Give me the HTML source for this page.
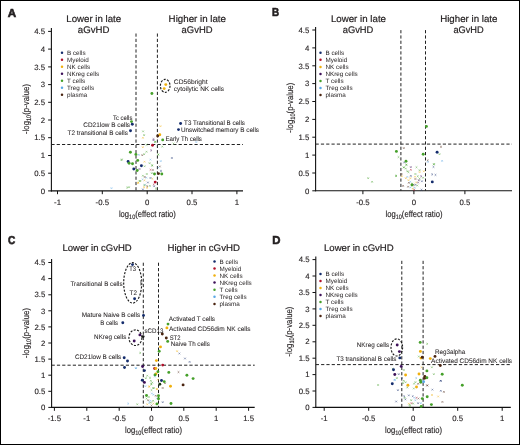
<!DOCTYPE html>
<html><head><meta charset="utf-8"><style>
html,body{margin:0;padding:0;background:#fff;}
body{width:520px;height:445px;overflow:hidden;position:relative;font-family:"Liberation Sans", sans-serif;}
svg{display:block;position:absolute;left:0;top:0;will-change:transform;}
.frame{position:absolute;left:0;top:0;width:518px;height:443px;border:1px solid #000;pointer-events:none;}
</style></head><body>
<svg width="520" height="445" viewBox="0 0 520 445" font-family='"Liberation Sans", sans-serif' text-rendering="geometricPrecision">
<rect x="0" y="0" width="520" height="445" fill="#fff"/>
<line x1="51.4" y1="28.0" x2="51.4" y2="191.4" stroke="#111" stroke-width="1.1"/>
<line x1="50.9" y1="190.9" x2="243.0" y2="190.9" stroke="#111" stroke-width="1.1"/>
<line x1="48.1" y1="190.9" x2="51.4" y2="190.9" stroke="#111" stroke-width="1"/>
<text x="45.1" y="193.6" font-size="7.8" text-anchor="end" stroke="#231f20" stroke-width="0.12" fill="#231f20">0</text>
<line x1="48.1" y1="173.2" x2="51.4" y2="173.2" stroke="#111" stroke-width="1"/>
<text x="45.1" y="175.9" font-size="7.8" text-anchor="end" stroke="#231f20" stroke-width="0.12" fill="#231f20">0.5</text>
<line x1="48.1" y1="155.5" x2="51.4" y2="155.5" stroke="#111" stroke-width="1"/>
<text x="45.1" y="158.2" font-size="7.8" text-anchor="end" stroke="#231f20" stroke-width="0.12" fill="#231f20">1</text>
<line x1="48.1" y1="137.7" x2="51.4" y2="137.7" stroke="#111" stroke-width="1"/>
<text x="45.1" y="140.4" font-size="7.8" text-anchor="end" stroke="#231f20" stroke-width="0.12" fill="#231f20">1.5</text>
<line x1="48.1" y1="120.0" x2="51.4" y2="120.0" stroke="#111" stroke-width="1"/>
<text x="45.1" y="122.7" font-size="7.8" text-anchor="end" stroke="#231f20" stroke-width="0.12" fill="#231f20">2</text>
<line x1="48.1" y1="102.3" x2="51.4" y2="102.3" stroke="#111" stroke-width="1"/>
<text x="45.1" y="105.0" font-size="7.8" text-anchor="end" stroke="#231f20" stroke-width="0.12" fill="#231f20">2.5</text>
<line x1="48.1" y1="84.6" x2="51.4" y2="84.6" stroke="#111" stroke-width="1"/>
<text x="45.1" y="87.3" font-size="7.8" text-anchor="end" stroke="#231f20" stroke-width="0.12" fill="#231f20">3</text>
<line x1="48.1" y1="66.9" x2="51.4" y2="66.9" stroke="#111" stroke-width="1"/>
<text x="45.1" y="69.6" font-size="7.8" text-anchor="end" stroke="#231f20" stroke-width="0.12" fill="#231f20">3.5</text>
<line x1="48.1" y1="49.1" x2="51.4" y2="49.1" stroke="#111" stroke-width="1"/>
<text x="45.1" y="51.8" font-size="7.8" text-anchor="end" stroke="#231f20" stroke-width="0.12" fill="#231f20">4</text>
<line x1="48.1" y1="31.4" x2="51.4" y2="31.4" stroke="#111" stroke-width="1"/>
<text x="45.1" y="34.1" font-size="7.8" text-anchor="end" stroke="#231f20" stroke-width="0.12" fill="#231f20">4.5</text>
<line x1="57.5" y1="190.9" x2="57.5" y2="194.2" stroke="#111" stroke-width="1"/>
<text x="57.5" y="204.6" font-size="7.8" text-anchor="middle" stroke="#231f20" stroke-width="0.12" fill="#231f20">-1</text>
<line x1="102.3" y1="190.9" x2="102.3" y2="194.2" stroke="#111" stroke-width="1"/>
<text x="102.3" y="204.6" font-size="7.8" text-anchor="middle" stroke="#231f20" stroke-width="0.12" fill="#231f20">-0.5</text>
<line x1="147.2" y1="190.9" x2="147.2" y2="194.2" stroke="#111" stroke-width="1"/>
<text x="147.2" y="204.6" font-size="7.8" text-anchor="middle" stroke="#231f20" stroke-width="0.12" fill="#231f20">0</text>
<line x1="192.0" y1="190.9" x2="192.0" y2="194.2" stroke="#111" stroke-width="1"/>
<text x="192.0" y="204.6" font-size="7.8" text-anchor="middle" stroke="#231f20" stroke-width="0.12" fill="#231f20">0.5</text>
<line x1="236.9" y1="190.9" x2="236.9" y2="194.2" stroke="#111" stroke-width="1"/>
<text x="236.9" y="204.6" font-size="7.8" text-anchor="middle" stroke="#231f20" stroke-width="0.12" fill="#231f20">1</text>
<line x1="136.0" y1="33.5" x2="136.0" y2="190.9" stroke="#222" stroke-width="1" stroke-dasharray="3.2 2.1"/>
<line x1="157.4" y1="33.5" x2="157.4" y2="190.9" stroke="#222" stroke-width="1" stroke-dasharray="3.2 2.1"/>
<line x1="51.4" y1="144.5" x2="243.0" y2="144.5" stroke="#222" stroke-width="1" stroke-dasharray="3.2 2.1"/>
<text x="118.9" y="216.6" font-size="9" fill="#231f20" stroke="#231f20" stroke-width="0.15" textLength="57" lengthAdjust="spacingAndGlyphs">log<tspan font-size="6.5" dy="2.2">10</tspan><tspan dy="-2.2">(effect ratio)</tspan></text>
<text transform="translate(28.8,134.0) rotate(-90)" font-size="9" fill="#231f20" stroke="#231f20" stroke-width="0.15" textLength="50" lengthAdjust="spacingAndGlyphs">-log<tspan font-size="6.5" dy="2.2">10</tspan><tspan dy="-2.2">(p-value)</tspan></text>
<line x1="315.6" y1="27.0" x2="315.6" y2="191.3" stroke="#111" stroke-width="1.1"/>
<line x1="315.1" y1="190.8" x2="512.0" y2="190.8" stroke="#111" stroke-width="1.1"/>
<line x1="312.3" y1="190.8" x2="315.6" y2="190.8" stroke="#111" stroke-width="1"/>
<text x="309.3" y="193.5" font-size="7.8" text-anchor="end" stroke="#231f20" stroke-width="0.12" fill="#231f20">0</text>
<line x1="312.3" y1="173.0" x2="315.6" y2="173.0" stroke="#111" stroke-width="1"/>
<text x="309.3" y="175.7" font-size="7.8" text-anchor="end" stroke="#231f20" stroke-width="0.12" fill="#231f20">0.5</text>
<line x1="312.3" y1="155.1" x2="315.6" y2="155.1" stroke="#111" stroke-width="1"/>
<text x="309.3" y="157.8" font-size="7.8" text-anchor="end" stroke="#231f20" stroke-width="0.12" fill="#231f20">1</text>
<line x1="312.3" y1="137.2" x2="315.6" y2="137.2" stroke="#111" stroke-width="1"/>
<text x="309.3" y="139.9" font-size="7.8" text-anchor="end" stroke="#231f20" stroke-width="0.12" fill="#231f20">1.5</text>
<line x1="312.3" y1="119.4" x2="315.6" y2="119.4" stroke="#111" stroke-width="1"/>
<text x="309.3" y="122.1" font-size="7.8" text-anchor="end" stroke="#231f20" stroke-width="0.12" fill="#231f20">2</text>
<line x1="312.3" y1="101.5" x2="315.6" y2="101.5" stroke="#111" stroke-width="1"/>
<text x="309.3" y="104.2" font-size="7.8" text-anchor="end" stroke="#231f20" stroke-width="0.12" fill="#231f20">2.5</text>
<line x1="312.3" y1="83.6" x2="315.6" y2="83.6" stroke="#111" stroke-width="1"/>
<text x="309.3" y="86.3" font-size="7.8" text-anchor="end" stroke="#231f20" stroke-width="0.12" fill="#231f20">3</text>
<line x1="312.3" y1="65.8" x2="315.6" y2="65.8" stroke="#111" stroke-width="1"/>
<text x="309.3" y="68.5" font-size="7.8" text-anchor="end" stroke="#231f20" stroke-width="0.12" fill="#231f20">3.5</text>
<line x1="312.3" y1="47.9" x2="315.6" y2="47.9" stroke="#111" stroke-width="1"/>
<text x="309.3" y="50.6" font-size="7.8" text-anchor="end" stroke="#231f20" stroke-width="0.12" fill="#231f20">4</text>
<line x1="312.3" y1="30.0" x2="315.6" y2="30.0" stroke="#111" stroke-width="1"/>
<text x="309.3" y="32.7" font-size="7.8" text-anchor="end" stroke="#231f20" stroke-width="0.12" fill="#231f20">4.5</text>
<line x1="362.9" y1="190.8" x2="362.9" y2="194.2" stroke="#111" stroke-width="1"/>
<text x="362.9" y="204.5" font-size="7.8" text-anchor="middle" stroke="#231f20" stroke-width="0.12" fill="#231f20">-0.5</text>
<line x1="413.9" y1="190.8" x2="413.9" y2="194.2" stroke="#111" stroke-width="1"/>
<text x="413.9" y="204.5" font-size="7.8" text-anchor="middle" stroke="#231f20" stroke-width="0.12" fill="#231f20">0</text>
<line x1="464.9" y1="190.8" x2="464.9" y2="194.2" stroke="#111" stroke-width="1"/>
<text x="464.9" y="204.5" font-size="7.8" text-anchor="middle" stroke="#231f20" stroke-width="0.12" fill="#231f20">0.5</text>
<line x1="400.9" y1="30.1" x2="400.9" y2="190.8" stroke="#222" stroke-width="1" stroke-dasharray="3.2 2.1"/>
<line x1="425.5" y1="30.1" x2="425.5" y2="190.8" stroke="#222" stroke-width="1" stroke-dasharray="3.2 2.1"/>
<line x1="315.6" y1="144.1" x2="512.0" y2="144.1" stroke="#222" stroke-width="1" stroke-dasharray="3.2 2.1"/>
<text x="385.5" y="216.6" font-size="9" fill="#231f20" stroke="#231f20" stroke-width="0.15" textLength="57" lengthAdjust="spacingAndGlyphs">log<tspan font-size="6.5" dy="2.2">10</tspan><tspan dy="-2.2">(effect ratio)</tspan></text>
<text transform="translate(292.5,132.7) rotate(-90)" font-size="9" fill="#231f20" stroke="#231f20" stroke-width="0.15" textLength="50" lengthAdjust="spacingAndGlyphs">-log<tspan font-size="6.5" dy="2.2">10</tspan><tspan dy="-2.2">(p-value)</tspan></text>
<line x1="51.6" y1="258.9" x2="51.6" y2="407.9" stroke="#111" stroke-width="1.1"/>
<line x1="51.1" y1="407.4" x2="254.7" y2="407.4" stroke="#111" stroke-width="1.1"/>
<line x1="48.3" y1="407.4" x2="51.6" y2="407.4" stroke="#111" stroke-width="1"/>
<text x="45.3" y="410.1" font-size="7.8" text-anchor="end" stroke="#231f20" stroke-width="0.12" fill="#231f20">0</text>
<line x1="48.3" y1="391.3" x2="51.6" y2="391.3" stroke="#111" stroke-width="1"/>
<text x="45.3" y="394.0" font-size="7.8" text-anchor="end" stroke="#231f20" stroke-width="0.12" fill="#231f20">0.5</text>
<line x1="48.3" y1="375.2" x2="51.6" y2="375.2" stroke="#111" stroke-width="1"/>
<text x="45.3" y="377.9" font-size="7.8" text-anchor="end" stroke="#231f20" stroke-width="0.12" fill="#231f20">1</text>
<line x1="48.3" y1="359.1" x2="51.6" y2="359.1" stroke="#111" stroke-width="1"/>
<text x="45.3" y="361.8" font-size="7.8" text-anchor="end" stroke="#231f20" stroke-width="0.12" fill="#231f20">1.5</text>
<line x1="48.3" y1="343.0" x2="51.6" y2="343.0" stroke="#111" stroke-width="1"/>
<text x="45.3" y="345.7" font-size="7.8" text-anchor="end" stroke="#231f20" stroke-width="0.12" fill="#231f20">2</text>
<line x1="48.3" y1="326.9" x2="51.6" y2="326.9" stroke="#111" stroke-width="1"/>
<text x="45.3" y="329.6" font-size="7.8" text-anchor="end" stroke="#231f20" stroke-width="0.12" fill="#231f20">2.5</text>
<line x1="48.3" y1="310.8" x2="51.6" y2="310.8" stroke="#111" stroke-width="1"/>
<text x="45.3" y="313.5" font-size="7.8" text-anchor="end" stroke="#231f20" stroke-width="0.12" fill="#231f20">3</text>
<line x1="48.3" y1="294.8" x2="51.6" y2="294.8" stroke="#111" stroke-width="1"/>
<text x="45.3" y="297.4" font-size="7.8" text-anchor="end" stroke="#231f20" stroke-width="0.12" fill="#231f20">3.5</text>
<line x1="48.3" y1="278.6" x2="51.6" y2="278.6" stroke="#111" stroke-width="1"/>
<text x="45.3" y="281.3" font-size="7.8" text-anchor="end" stroke="#231f20" stroke-width="0.12" fill="#231f20">4</text>
<line x1="48.3" y1="262.5" x2="51.6" y2="262.5" stroke="#111" stroke-width="1"/>
<text x="45.3" y="265.2" font-size="7.8" text-anchor="end" stroke="#231f20" stroke-width="0.12" fill="#231f20">4.5</text>
<line x1="54.4" y1="407.4" x2="54.4" y2="410.8" stroke="#111" stroke-width="1"/>
<text x="54.4" y="421.1" font-size="7.8" text-anchor="middle" stroke="#231f20" stroke-width="0.12" fill="#231f20">-1.5</text>
<line x1="86.8" y1="407.4" x2="86.8" y2="410.8" stroke="#111" stroke-width="1"/>
<text x="86.8" y="421.1" font-size="7.8" text-anchor="middle" stroke="#231f20" stroke-width="0.12" fill="#231f20">-1</text>
<line x1="119.2" y1="407.4" x2="119.2" y2="410.8" stroke="#111" stroke-width="1"/>
<text x="119.2" y="421.1" font-size="7.8" text-anchor="middle" stroke="#231f20" stroke-width="0.12" fill="#231f20">-0.5</text>
<line x1="151.5" y1="407.4" x2="151.5" y2="410.8" stroke="#111" stroke-width="1"/>
<text x="151.5" y="421.1" font-size="7.8" text-anchor="middle" stroke="#231f20" stroke-width="0.12" fill="#231f20">0</text>
<line x1="183.8" y1="407.4" x2="183.8" y2="410.8" stroke="#111" stroke-width="1"/>
<text x="183.8" y="421.1" font-size="7.8" text-anchor="middle" stroke="#231f20" stroke-width="0.12" fill="#231f20">0.5</text>
<line x1="216.2" y1="407.4" x2="216.2" y2="410.8" stroke="#111" stroke-width="1"/>
<text x="216.2" y="421.1" font-size="7.8" text-anchor="middle" stroke="#231f20" stroke-width="0.12" fill="#231f20">1</text>
<line x1="248.6" y1="407.4" x2="248.6" y2="410.8" stroke="#111" stroke-width="1"/>
<text x="248.6" y="421.1" font-size="7.8" text-anchor="middle" stroke="#231f20" stroke-width="0.12" fill="#231f20">1.5</text>
<line x1="143.3" y1="262.7" x2="143.3" y2="407.4" stroke="#222" stroke-width="1" stroke-dasharray="3.2 2.1"/>
<line x1="158.5" y1="262.7" x2="158.5" y2="407.4" stroke="#222" stroke-width="1" stroke-dasharray="3.2 2.1"/>
<line x1="51.6" y1="365.2" x2="254.7" y2="365.2" stroke="#222" stroke-width="1" stroke-dasharray="3.2 2.1"/>
<text x="125.0" y="433.1" font-size="9" fill="#231f20" stroke="#231f20" stroke-width="0.15" textLength="57" lengthAdjust="spacingAndGlyphs">log<tspan font-size="6.5" dy="2.2">10</tspan><tspan dy="-2.2">(effect ratio)</tspan></text>
<text transform="translate(28.8,358.0) rotate(-90)" font-size="9" fill="#231f20" stroke="#231f20" stroke-width="0.15" textLength="50" lengthAdjust="spacingAndGlyphs">-log<tspan font-size="6.5" dy="2.2">10</tspan><tspan dy="-2.2">(p-value)</tspan></text>
<line x1="315.8" y1="256.6" x2="315.8" y2="407.9" stroke="#111" stroke-width="1.1"/>
<line x1="315.3" y1="407.4" x2="510.8" y2="407.4" stroke="#111" stroke-width="1.1"/>
<line x1="312.5" y1="407.4" x2="315.8" y2="407.4" stroke="#111" stroke-width="1"/>
<text x="309.5" y="410.1" font-size="7.8" text-anchor="end" stroke="#231f20" stroke-width="0.12" fill="#231f20">0</text>
<line x1="312.5" y1="391.0" x2="315.8" y2="391.0" stroke="#111" stroke-width="1"/>
<text x="309.5" y="393.7" font-size="7.8" text-anchor="end" stroke="#231f20" stroke-width="0.12" fill="#231f20">0.5</text>
<line x1="312.5" y1="374.6" x2="315.8" y2="374.6" stroke="#111" stroke-width="1"/>
<text x="309.5" y="377.3" font-size="7.8" text-anchor="end" stroke="#231f20" stroke-width="0.12" fill="#231f20">1</text>
<line x1="312.5" y1="358.2" x2="315.8" y2="358.2" stroke="#111" stroke-width="1"/>
<text x="309.5" y="360.9" font-size="7.8" text-anchor="end" stroke="#231f20" stroke-width="0.12" fill="#231f20">1.5</text>
<line x1="312.5" y1="341.8" x2="315.8" y2="341.8" stroke="#111" stroke-width="1"/>
<text x="309.5" y="344.4" font-size="7.8" text-anchor="end" stroke="#231f20" stroke-width="0.12" fill="#231f20">2</text>
<line x1="312.5" y1="325.3" x2="315.8" y2="325.3" stroke="#111" stroke-width="1"/>
<text x="309.5" y="328.0" font-size="7.8" text-anchor="end" stroke="#231f20" stroke-width="0.12" fill="#231f20">2.5</text>
<line x1="312.5" y1="308.9" x2="315.8" y2="308.9" stroke="#111" stroke-width="1"/>
<text x="309.5" y="311.6" font-size="7.8" text-anchor="end" stroke="#231f20" stroke-width="0.12" fill="#231f20">3</text>
<line x1="312.5" y1="292.5" x2="315.8" y2="292.5" stroke="#111" stroke-width="1"/>
<text x="309.5" y="295.2" font-size="7.8" text-anchor="end" stroke="#231f20" stroke-width="0.12" fill="#231f20">3.5</text>
<line x1="312.5" y1="276.0" x2="315.8" y2="276.0" stroke="#111" stroke-width="1"/>
<text x="309.5" y="278.7" font-size="7.8" text-anchor="end" stroke="#231f20" stroke-width="0.12" fill="#231f20">4</text>
<line x1="312.5" y1="259.6" x2="315.8" y2="259.6" stroke="#111" stroke-width="1"/>
<text x="309.5" y="262.3" font-size="7.8" text-anchor="end" stroke="#231f20" stroke-width="0.12" fill="#231f20">4.5</text>
<line x1="324.2" y1="407.4" x2="324.2" y2="410.8" stroke="#111" stroke-width="1"/>
<text x="324.2" y="421.1" font-size="7.8" text-anchor="middle" stroke="#231f20" stroke-width="0.12" fill="#231f20">-1</text>
<line x1="368.7" y1="407.4" x2="368.7" y2="410.8" stroke="#111" stroke-width="1"/>
<text x="368.7" y="421.1" font-size="7.8" text-anchor="middle" stroke="#231f20" stroke-width="0.12" fill="#231f20">-0.5</text>
<line x1="413.2" y1="407.4" x2="413.2" y2="410.8" stroke="#111" stroke-width="1"/>
<text x="413.2" y="421.1" font-size="7.8" text-anchor="middle" stroke="#231f20" stroke-width="0.12" fill="#231f20">0</text>
<line x1="457.7" y1="407.4" x2="457.7" y2="410.8" stroke="#111" stroke-width="1"/>
<text x="457.7" y="421.1" font-size="7.8" text-anchor="middle" stroke="#231f20" stroke-width="0.12" fill="#231f20">0.5</text>
<line x1="502.2" y1="407.4" x2="502.2" y2="410.8" stroke="#111" stroke-width="1"/>
<text x="502.2" y="421.1" font-size="7.8" text-anchor="middle" stroke="#231f20" stroke-width="0.12" fill="#231f20">1</text>
<line x1="401.8" y1="260.8" x2="401.8" y2="407.4" stroke="#222" stroke-width="1" stroke-dasharray="3.2 2.1"/>
<line x1="423.1" y1="260.8" x2="423.1" y2="407.4" stroke="#222" stroke-width="1" stroke-dasharray="3.2 2.1"/>
<line x1="315.8" y1="364.6" x2="510.8" y2="364.6" stroke="#222" stroke-width="1" stroke-dasharray="3.2 2.1"/>
<text x="385.0" y="433.1" font-size="9" fill="#231f20" stroke="#231f20" stroke-width="0.15" textLength="57" lengthAdjust="spacingAndGlyphs">log<tspan font-size="6.5" dy="2.2">10</tspan><tspan dy="-2.2">(effect ratio)</tspan></text>
<text transform="translate(292.0,356.6) rotate(-90)" font-size="9" fill="#231f20" stroke="#231f20" stroke-width="0.15" textLength="50" lengthAdjust="spacingAndGlyphs">-log<tspan font-size="6.5" dy="2.2">10</tspan><tspan dy="-2.2">(p-value)</tspan></text>
<text x="7.7" y="16.6" font-size="11.5" text-anchor="start" font-weight="bold" stroke="#231f20" stroke-width="0.6" textLength="8.4" lengthAdjust="spacingAndGlyphs" fill="#231f20">A</text>
<text x="272.0" y="16.3" font-size="11.5" text-anchor="start" font-weight="bold" stroke="#231f20" stroke-width="0.6" textLength="7.1" lengthAdjust="spacingAndGlyphs" fill="#231f20">B</text>
<text x="8.0" y="243.9" font-size="11.5" text-anchor="start" font-weight="bold" stroke="#231f20" stroke-width="0.6" textLength="7.3" lengthAdjust="spacingAndGlyphs" fill="#231f20">C</text>
<text x="272.2" y="244.2" font-size="11.5" text-anchor="start" font-weight="bold" stroke="#231f20" stroke-width="0.6" textLength="8.2" lengthAdjust="spacingAndGlyphs" fill="#231f20">D</text>
<text x="66.3" y="21.6" font-size="9.6" text-anchor="start" stroke="#231f20" stroke-width="0.2" textLength="54.8" lengthAdjust="spacingAndGlyphs" fill="#231f20">Lower in late</text>
<text x="77.8" y="33.2" font-size="9.6" text-anchor="start" stroke="#231f20" stroke-width="0.2" textLength="31.6" lengthAdjust="spacingAndGlyphs" fill="#231f20">aGvHD</text>
<text x="168.6" y="21.6" font-size="9.6" text-anchor="start" stroke="#231f20" stroke-width="0.2" textLength="57.4" lengthAdjust="spacingAndGlyphs" fill="#231f20">Higher in late</text>
<text x="181.6" y="33.2" font-size="9.6" text-anchor="start" stroke="#231f20" stroke-width="0.2" textLength="30.9" lengthAdjust="spacingAndGlyphs" fill="#231f20">aGvHD</text>
<text x="330.9" y="21.5" font-size="9.6" text-anchor="start" stroke="#231f20" stroke-width="0.2" textLength="55.1" lengthAdjust="spacingAndGlyphs" fill="#231f20">Lower in late</text>
<text x="342.7" y="32.9" font-size="9.6" text-anchor="start" stroke="#231f20" stroke-width="0.2" textLength="30.7" lengthAdjust="spacingAndGlyphs" fill="#231f20">aGvHD</text>
<text x="440.2" y="21.5" font-size="9.6" text-anchor="start" stroke="#231f20" stroke-width="0.2" textLength="57.2" lengthAdjust="spacingAndGlyphs" fill="#231f20">Higher in late</text>
<text x="453.4" y="32.9" font-size="9.6" text-anchor="start" stroke="#231f20" stroke-width="0.2" textLength="30.3" lengthAdjust="spacingAndGlyphs" fill="#231f20">aGvHD</text>
<text x="62.5" y="250.6" font-size="9.5" text-anchor="start" stroke="#231f20" stroke-width="0.2" textLength="69.2" lengthAdjust="spacingAndGlyphs" fill="#231f20">Lower in cGvHD</text>
<text x="167.5" y="250.6" font-size="9.5" text-anchor="start" stroke="#231f20" stroke-width="0.2" textLength="72.4" lengthAdjust="spacingAndGlyphs" fill="#231f20">Higher in cGvHD</text>
<text x="324.0" y="250.8" font-size="9.5" text-anchor="start" stroke="#231f20" stroke-width="0.2" textLength="69.7" lengthAdjust="spacingAndGlyphs" fill="#231f20">Lower in cGvHD</text>
<circle cx="62.0" cy="52.7" r="1.25" fill="#142c6c"/>
<text x="67.0" y="54.9" font-size="6.3" text-anchor="start" stroke="#231f20" stroke-width="0.0" fill="#231f20">B cells</text>
<circle cx="62.0" cy="59.7" r="1.25" fill="#b0102a"/>
<text x="67.0" y="61.9" font-size="6.3" text-anchor="start" stroke="#231f20" stroke-width="0.0" fill="#231f20">Myeloid</text>
<circle cx="62.0" cy="66.7" r="1.25" fill="#f0b00e"/>
<text x="67.0" y="68.9" font-size="6.3" text-anchor="start" stroke="#231f20" stroke-width="0.0" fill="#231f20">NK cells</text>
<circle cx="62.0" cy="73.7" r="1.25" fill="#3e1159"/>
<text x="67.0" y="75.9" font-size="6.3" text-anchor="start" stroke="#231f20" stroke-width="0.0" fill="#231f20">NKreg cells</text>
<circle cx="62.0" cy="80.7" r="1.25" fill="#45a02a"/>
<text x="67.0" y="82.9" font-size="6.3" text-anchor="start" stroke="#231f20" stroke-width="0.0" fill="#231f20">T cells</text>
<circle cx="62.0" cy="87.7" r="1.25" fill="#5aa8e6"/>
<text x="67.0" y="89.9" font-size="6.3" text-anchor="start" stroke="#231f20" stroke-width="0.0" fill="#231f20">Treg cells</text>
<circle cx="62.0" cy="94.7" r="1.25" fill="#4a2410"/>
<text x="67.0" y="96.9" font-size="6.3" text-anchor="start" stroke="#231f20" stroke-width="0.0" fill="#231f20">plasma</text>
<circle cx="320.5" cy="52.8" r="1.25" fill="#142c6c"/>
<text x="325.5" y="55.0" font-size="6.3" text-anchor="start" stroke="#231f20" stroke-width="0.0" fill="#231f20">B cells</text>
<circle cx="320.5" cy="59.8" r="1.25" fill="#b0102a"/>
<text x="325.5" y="62.0" font-size="6.3" text-anchor="start" stroke="#231f20" stroke-width="0.0" fill="#231f20">Myeloid</text>
<circle cx="320.5" cy="66.9" r="1.25" fill="#f0b00e"/>
<text x="325.5" y="69.1" font-size="6.3" text-anchor="start" stroke="#231f20" stroke-width="0.0" fill="#231f20">NK cells</text>
<circle cx="320.5" cy="73.9" r="1.25" fill="#3e1159"/>
<text x="325.5" y="76.1" font-size="6.3" text-anchor="start" stroke="#231f20" stroke-width="0.0" fill="#231f20">NKreg cells</text>
<circle cx="320.5" cy="81.0" r="1.25" fill="#45a02a"/>
<text x="325.5" y="83.2" font-size="6.3" text-anchor="start" stroke="#231f20" stroke-width="0.0" fill="#231f20">T cells</text>
<circle cx="320.5" cy="88.0" r="1.25" fill="#5aa8e6"/>
<text x="325.5" y="90.2" font-size="6.3" text-anchor="start" stroke="#231f20" stroke-width="0.0" fill="#231f20">Treg cells</text>
<circle cx="320.5" cy="95.1" r="1.25" fill="#4a2410"/>
<text x="325.5" y="97.3" font-size="6.3" text-anchor="start" stroke="#231f20" stroke-width="0.0" fill="#231f20">plasma</text>
<circle cx="214.5" cy="261.4" r="1.25" fill="#142c6c"/>
<text x="219.5" y="263.6" font-size="6.3" text-anchor="start" stroke="#231f20" stroke-width="0.0" fill="#231f20">B cells</text>
<circle cx="214.5" cy="268.5" r="1.25" fill="#b0102a"/>
<text x="219.5" y="270.7" font-size="6.3" text-anchor="start" stroke="#231f20" stroke-width="0.0" fill="#231f20">Myeloid</text>
<circle cx="214.5" cy="275.6" r="1.25" fill="#f0b00e"/>
<text x="219.5" y="277.8" font-size="6.3" text-anchor="start" stroke="#231f20" stroke-width="0.0" fill="#231f20">NK cells</text>
<circle cx="214.5" cy="282.6" r="1.25" fill="#3e1159"/>
<text x="219.5" y="284.8" font-size="6.3" text-anchor="start" stroke="#231f20" stroke-width="0.0" fill="#231f20">NKreg cells</text>
<circle cx="214.5" cy="289.7" r="1.25" fill="#45a02a"/>
<text x="219.5" y="291.9" font-size="6.3" text-anchor="start" stroke="#231f20" stroke-width="0.0" fill="#231f20">T cells</text>
<circle cx="214.5" cy="296.8" r="1.25" fill="#5aa8e6"/>
<text x="219.5" y="299.0" font-size="6.3" text-anchor="start" stroke="#231f20" stroke-width="0.0" fill="#231f20">Treg cells</text>
<circle cx="214.5" cy="303.9" r="1.25" fill="#4a2410"/>
<text x="219.5" y="306.1" font-size="6.3" text-anchor="start" stroke="#231f20" stroke-width="0.0" fill="#231f20">plasma</text>
<circle cx="320.5" cy="273.9" r="1.25" fill="#142c6c"/>
<text x="325.5" y="276.1" font-size="6.3" text-anchor="start" stroke="#231f20" stroke-width="0.0" fill="#231f20">B cells</text>
<circle cx="320.5" cy="280.9" r="1.25" fill="#b0102a"/>
<text x="325.5" y="283.1" font-size="6.3" text-anchor="start" stroke="#231f20" stroke-width="0.0" fill="#231f20">Myeloid</text>
<circle cx="320.5" cy="287.9" r="1.25" fill="#f0b00e"/>
<text x="325.5" y="290.1" font-size="6.3" text-anchor="start" stroke="#231f20" stroke-width="0.0" fill="#231f20">NK cells</text>
<circle cx="320.5" cy="295.0" r="1.25" fill="#3e1159"/>
<text x="325.5" y="297.2" font-size="6.3" text-anchor="start" stroke="#231f20" stroke-width="0.0" fill="#231f20">NKreg cells</text>
<circle cx="320.5" cy="302.0" r="1.25" fill="#45a02a"/>
<text x="325.5" y="304.2" font-size="6.3" text-anchor="start" stroke="#231f20" stroke-width="0.0" fill="#231f20">T cells</text>
<circle cx="320.5" cy="309.0" r="1.25" fill="#5aa8e6"/>
<text x="325.5" y="311.2" font-size="6.3" text-anchor="start" stroke="#231f20" stroke-width="0.0" fill="#231f20">Treg cells</text>
<circle cx="320.5" cy="316.0" r="1.25" fill="#4a2410"/>
<text x="325.5" y="318.2" font-size="6.3" text-anchor="start" stroke="#231f20" stroke-width="0.0" fill="#231f20">plasma</text>
<path d="M142.00 146.40L143.60 148.00M143.60 146.40L142.00 148.00" stroke="#f0b00e" stroke-width="0.85" opacity="0.55"/>
<path d="M145.70 144.00L147.30 145.60M147.30 144.00L145.70 145.60" stroke="#45a02a" stroke-width="0.85" opacity="0.55"/>
<path d="M150.40 149.60L152.00 151.20M152.00 149.60L150.40 151.20" stroke="#3e1159" stroke-width="0.85" opacity="0.55"/>
<path d="M145.70 150.90L147.30 152.50M147.30 150.90L145.70 152.50" stroke="#45a02a" stroke-width="0.85" opacity="0.55"/>
<path d="M138.00 154.00L139.60 155.60M139.60 154.00L138.00 155.60" stroke="#5aa8e6" stroke-width="0.85" opacity="0.55"/>
<path d="M141.50 154.40L143.10 156.00M143.10 154.40L141.50 156.00" stroke="#4a2410" stroke-width="0.85" opacity="0.55"/>
<path d="M143.40 153.40L145.00 155.00M145.00 153.40L143.40 155.00" stroke="#45a02a" stroke-width="0.85" opacity="0.55"/>
<path d="M120.70 159.40L122.30 161.00M122.30 159.40L120.70 161.00" stroke="#45a02a" stroke-width="0.85" opacity="0.55"/>
<path d="M143.70 160.90L145.30 162.50M145.30 160.90L143.70 162.50" stroke="#f0b00e" stroke-width="0.85" opacity="0.55"/>
<path d="M149.60 158.80L151.20 160.40M151.20 158.80L149.60 160.40" stroke="#5aa8e6" stroke-width="0.85" opacity="0.55"/>
<path d="M148.80 162.40L150.40 164.00M150.40 162.40L148.80 164.00" stroke="#45a02a" stroke-width="0.85" opacity="0.55"/>
<path d="M151.40 164.60L153.00 166.20M153.00 164.60L151.40 166.20" stroke="#45a02a" stroke-width="0.85" opacity="0.55"/>
<path d="M143.80 165.50L145.40 167.10M145.40 165.50L143.80 167.10" stroke="#45a02a" stroke-width="0.85" opacity="0.55"/>
<path d="M154.20 141.10L155.80 142.70M155.80 141.10L154.20 142.70" stroke="#45a02a" stroke-width="0.85" opacity="0.55"/>
<path d="M152.70 139.40L154.30 141.00M154.30 139.40L152.70 141.00" stroke="#3e1159" stroke-width="0.85" opacity="0.55"/>
<path d="M157.40 153.80L159.00 155.40M159.00 153.80L157.40 155.40" stroke="#45a02a" stroke-width="0.85" opacity="0.55"/>
<path d="M172.70 142.70L174.30 144.30M174.30 142.70L172.70 144.30" stroke="#45a02a" stroke-width="0.85" opacity="0.55"/>
<path d="M161.50 145.80L163.10 147.40M163.10 145.80L161.50 147.40" stroke="#45a02a" stroke-width="0.85" opacity="0.55"/>
<path d="M157.70 153.70L159.30 155.30M159.30 153.70L157.70 155.30" stroke="#45a02a" stroke-width="0.85" opacity="0.55"/>
<path d="M171.10 157.20L172.70 158.80M172.70 157.20L171.10 158.80" stroke="#142c6c" stroke-width="0.85" opacity="0.55"/>
<path d="M160.00 160.30L161.60 161.90M161.60 160.30L160.00 161.90" stroke="#5aa8e6" stroke-width="0.85" opacity="0.55"/>
<path d="M154.60 141.00L156.20 142.60M156.20 141.00L154.60 142.60" stroke="#45a02a" stroke-width="0.85" opacity="0.55"/>
<path d="M110.70 187.40L112.30 189.00M112.30 187.40L110.70 189.00" stroke="#5aa8e6" stroke-width="0.85" opacity="0.55"/>
<path d="M126.40 186.80L128.00 188.40M128.00 186.80L126.40 188.40" stroke="#45a02a" stroke-width="0.85" opacity="0.55"/>
<path d="M128.20 186.40L129.80 188.00M129.80 186.40L128.20 188.00" stroke="#45a02a" stroke-width="0.85" opacity="0.55"/>
<path d="M137.30 182.00L138.90 183.60M138.90 182.00L137.30 183.60" stroke="#f0b00e" stroke-width="0.85" opacity="0.55"/>
<path d="M138.80 180.20L140.40 181.80M140.40 180.20L138.80 181.80" stroke="#45a02a" stroke-width="0.85" opacity="0.55"/>
<path d="M138.70 168.20L140.30 169.80M140.30 168.20L138.70 169.80" stroke="#3e1159" stroke-width="0.85" opacity="0.55"/>
<path d="M151.40 164.70L153.00 166.30M153.00 164.70L151.40 166.30" stroke="#45a02a" stroke-width="0.85" opacity="0.55"/>
<path d="M149.70 169.00L151.30 170.60M151.30 169.00L149.70 170.60" stroke="#b0102a" stroke-width="0.85" opacity="0.55"/>
<path d="M152.00 169.20L153.60 170.80M153.60 169.20L152.00 170.80" stroke="#4a2410" stroke-width="0.85" opacity="0.55"/>
<path d="M159.00 165.70L160.60 167.30M160.60 165.70L159.00 167.30" stroke="#4a2410" stroke-width="0.85" opacity="0.55"/>
<path d="M157.50 166.70L159.10 168.30M159.10 166.70L157.50 168.30" stroke="#5aa8e6" stroke-width="0.85" opacity="0.55"/>
<path d="M160.20 170.10L161.80 171.70M161.80 170.10L160.20 171.70" stroke="#142c6c" stroke-width="0.85" opacity="0.55"/>
<path d="M146.00 173.20L147.60 174.80M147.60 173.20L146.00 174.80" stroke="#45a02a" stroke-width="0.85" opacity="0.55"/>
<path d="M151.00 172.40L152.60 174.00M152.60 172.40L151.00 174.00" stroke="#45a02a" stroke-width="0.85" opacity="0.55"/>
<path d="M142.10 174.90L143.70 176.50M143.70 174.90L142.10 176.50" stroke="#45a02a" stroke-width="0.85" opacity="0.55"/>
<path d="M144.00 176.20L145.60 177.80M145.60 176.20L144.00 177.80" stroke="#4a2410" stroke-width="0.85" opacity="0.55"/>
<path d="M145.60 176.90L147.20 178.50M147.20 176.90L145.60 178.50" stroke="#5aa8e6" stroke-width="0.85" opacity="0.55"/>
<path d="M149.70 177.20L151.30 178.80M151.30 177.20L149.70 178.80" stroke="#142c6c" stroke-width="0.85" opacity="0.55"/>
<path d="M151.70 178.00L153.30 179.60M153.30 178.00L151.70 179.60" stroke="#f0b00e" stroke-width="0.85" opacity="0.55"/>
<path d="M141.70 178.60L143.30 180.20M143.30 178.60L141.70 180.20" stroke="#5aa8e6" stroke-width="0.85" opacity="0.55"/>
<path d="M143.70 179.50L145.30 181.10M145.30 179.50L143.70 181.10" stroke="#f0b00e" stroke-width="0.85" opacity="0.55"/>
<path d="M139.40 180.20L141.00 181.80M141.00 180.20L139.40 181.80" stroke="#45a02a" stroke-width="0.85" opacity="0.55"/>
<path d="M137.40 182.00L139.00 183.60M139.00 182.00L137.40 183.60" stroke="#f0b00e" stroke-width="0.85" opacity="0.55"/>
<path d="M147.10 181.70L148.70 183.30M148.70 181.70L147.10 183.30" stroke="#142c6c" stroke-width="0.85" opacity="0.55"/>
<path d="M152.90 183.60L154.50 185.20M154.50 183.60L152.90 185.20" stroke="#b0102a" stroke-width="0.85" opacity="0.55"/>
<path d="M153.30 185.50L154.90 187.10M154.90 185.50L153.30 187.10" stroke="#142c6c" stroke-width="0.85" opacity="0.55"/>
<path d="M144.00 183.80L145.60 185.40M145.60 183.80L144.00 185.40" stroke="#5aa8e6" stroke-width="0.85" opacity="0.55"/>
<path d="M143.30 186.30L144.90 187.90M144.90 186.30L143.30 187.90" stroke="#f0b00e" stroke-width="0.85" opacity="0.55"/>
<path d="M146.40 185.50L148.00 187.10M148.00 185.50L146.40 187.10" stroke="#4a2410" stroke-width="0.85" opacity="0.55"/>
<path d="M146.40 187.00L148.00 188.60M148.00 187.00L146.40 188.60" stroke="#f0b00e" stroke-width="0.85" opacity="0.55"/>
<path d="M149.00 185.10L150.60 186.70M150.60 185.10L149.00 186.70" stroke="#45a02a" stroke-width="0.85" opacity="0.55"/>
<path d="M155.20 187.80L156.80 189.40M156.80 187.80L155.20 189.40" stroke="#45a02a" stroke-width="0.85" opacity="0.55"/>
<path d="M142.10 188.60L143.70 190.20M143.70 188.60L142.10 190.20" stroke="#142c6c" stroke-width="0.85" opacity="0.55"/>
<path d="M143.70 184.40L145.30 186.00M145.30 184.40L143.70 186.00" stroke="#45a02a" stroke-width="0.85" opacity="0.55"/>
<path d="M159.70 125.40L161.30 127.00M161.30 125.40L159.70 127.00" stroke="#f0b00e" stroke-width="0.85" opacity="0.55"/>
<path d="M142.30 130.60L143.90 132.20M143.90 130.60L142.30 132.20" stroke="#45a02a" stroke-width="0.85" opacity="0.55"/>
<path d="M143.30 134.30L144.90 135.90M144.90 134.30L143.30 135.90" stroke="#45a02a" stroke-width="0.85" opacity="0.55"/>
<path d="M142.10 137.00L143.70 138.60M143.70 137.00L142.10 138.60" stroke="#f0b00e" stroke-width="0.85" opacity="0.55"/>
<path d="M152.70 138.30L154.30 139.90M154.30 138.30L152.70 139.90" stroke="#3e1159" stroke-width="0.85" opacity="0.55"/>
<path d="M195.50 141.30L197.10 142.90M197.10 141.30L195.50 142.90" stroke="#5aa8e6" stroke-width="0.85" opacity="0.55"/>
<path d="M121.00 158.60L122.60 160.20M122.60 158.60L121.00 160.20" stroke="#45a02a" stroke-width="0.85" opacity="0.55"/>
<circle cx="152.5" cy="145.2" r="1.45" fill="#b0102a"/>
<circle cx="130.4" cy="152.3" r="1.45" fill="#45a02a"/>
<circle cx="135.9" cy="154.4" r="1.45" fill="#45a02a"/>
<circle cx="137.7" cy="160.4" r="1.45" fill="#45a02a"/>
<circle cx="128.1" cy="161.5" r="1.45" fill="#142c6c"/>
<circle cx="129.1" cy="163.2" r="1.45" fill="#45a02a"/>
<circle cx="132.5" cy="163.7" r="1.45" fill="#45a02a"/>
<circle cx="141.4" cy="165.8" r="1.45" fill="#142c6c"/>
<circle cx="133.8" cy="169.0" r="1.45" fill="#142c6c"/>
<circle cx="137.2" cy="170.5" r="1.45" fill="#45a02a"/>
<circle cx="154.5" cy="174.0" r="1.45" fill="#45a02a"/>
<circle cx="158.5" cy="173.6" r="1.45" fill="#4a2410"/>
<circle cx="161.8" cy="174.0" r="1.45" fill="#45a02a"/>
<circle cx="155.2" cy="182.1" r="1.45" fill="#b0102a"/>
<circle cx="165.8" cy="84.6" r="1.45" fill="#f0b00e"/>
<circle cx="164.2" cy="88.6" r="1.45" fill="#f0b00e"/>
<circle cx="151.9" cy="93.5" r="1.45" fill="#45a02a"/>
<circle cx="131.5" cy="121.6" r="1.45" fill="#45a02a"/>
<circle cx="132.3" cy="124.2" r="1.45" fill="#142c6c"/>
<circle cx="130.5" cy="130.8" r="1.45" fill="#142c6c"/>
<circle cx="180.6" cy="123.5" r="1.45" fill="#142c6c"/>
<circle cx="178.5" cy="129.6" r="1.45" fill="#142c6c"/>
<circle cx="162.7" cy="139.9" r="1.45" fill="#45a02a"/>
<circle cx="159.8" cy="134.7" r="1.45" fill="#f0b00e"/>
<circle cx="157.7" cy="136.0" r="1.45" fill="#4a2410"/>
<ellipse cx="165.2" cy="85.8" rx="4.8" ry="6.5" fill="none" stroke="#1a1a1a" stroke-width="1.15" stroke-dasharray="2.1 1.4"/>
<text x="173.8" y="83.7" font-size="6.6" text-anchor="start" stroke="#231f20" stroke-width="0.05" textLength="33.9" lengthAdjust="spacingAndGlyphs" fill="#231f20">CD56bright</text>
<text x="173.8" y="91.3" font-size="6.6" text-anchor="start" stroke="#231f20" stroke-width="0.05" textLength="50.2" lengthAdjust="spacingAndGlyphs" fill="#231f20">cytoilytic NK cells</text>
<text x="113.0" y="119.7" font-size="6.6" text-anchor="start" stroke="#231f20" stroke-width="0.05" textLength="19.4" lengthAdjust="spacingAndGlyphs" fill="#231f20">Tc cells</text>
<text x="83.3" y="127.3" font-size="6.6" text-anchor="start" stroke="#231f20" stroke-width="0.05" textLength="46.8" lengthAdjust="spacingAndGlyphs" fill="#231f20">CD21low B cells</text>
<text x="67.6" y="135.2" font-size="6.6" text-anchor="start" stroke="#231f20" stroke-width="0.05" textLength="60.3" lengthAdjust="spacingAndGlyphs" fill="#231f20">T2 transitional B cells</text>
<text x="184.1" y="124.5" font-size="6.6" text-anchor="start" stroke="#231f20" stroke-width="0.05" textLength="60.8" lengthAdjust="spacingAndGlyphs" fill="#231f20">T3 Transitional B cells</text>
<text x="180.9" y="132.2" font-size="6.6" text-anchor="start" stroke="#231f20" stroke-width="0.05" textLength="78.1" lengthAdjust="spacingAndGlyphs" fill="#231f20">Unswitched memory B cells</text>
<text x="165.5" y="141.3" font-size="6.6" text-anchor="start" stroke="#231f20" stroke-width="0.05" textLength="36.4" lengthAdjust="spacingAndGlyphs" fill="#231f20">Early Th cells</text>
<path d="M403.00 147.30L404.60 148.90M404.60 147.30L403.00 148.90" stroke="#4a2410" stroke-width="0.85" opacity="0.55"/>
<path d="M397.70 156.30L399.30 157.90M399.30 156.30L397.70 157.90" stroke="#45a02a" stroke-width="0.85" opacity="0.55"/>
<path d="M403.40 161.70L405.00 163.30M405.00 161.70L403.40 163.30" stroke="#142c6c" stroke-width="0.85" opacity="0.55"/>
<path d="M405.50 164.00L407.10 165.60M407.10 164.00L405.50 165.60" stroke="#45a02a" stroke-width="0.85" opacity="0.55"/>
<path d="M403.00 166.50L404.60 168.10M404.60 166.50L403.00 168.10" stroke="#45a02a" stroke-width="0.85" opacity="0.55"/>
<path d="M410.00 166.30L411.60 167.90M411.60 166.30L410.00 167.90" stroke="#3e1159" stroke-width="0.85" opacity="0.55"/>
<path d="M415.70 166.50L417.30 168.10M417.30 166.50L415.70 168.10" stroke="#45a02a" stroke-width="0.85" opacity="0.55"/>
<path d="M426.90 159.60L428.50 161.20M428.50 159.60L426.90 161.20" stroke="#4a2410" stroke-width="0.85" opacity="0.55"/>
<path d="M427.00 161.10L428.60 162.70M428.60 161.10L427.00 162.70" stroke="#5aa8e6" stroke-width="0.85" opacity="0.55"/>
<path d="M440.20 146.00L441.80 147.60M441.80 146.00L440.20 147.60" stroke="#4a2410" stroke-width="0.85" opacity="0.55"/>
<path d="M438.70 153.40L440.30 155.00M440.30 153.40L438.70 155.00" stroke="#45a02a" stroke-width="0.85" opacity="0.55"/>
<path d="M441.30 160.10L442.90 161.70M442.90 160.10L441.30 161.70" stroke="#5aa8e6" stroke-width="0.85" opacity="0.55"/>
<path d="M433.30 163.20L434.90 164.80M434.90 163.20L433.30 164.80" stroke="#45a02a" stroke-width="0.85" opacity="0.55"/>
<path d="M432.70 166.10L434.30 167.70M434.30 166.10L432.70 167.70" stroke="#142c6c" stroke-width="0.85" opacity="0.55"/>
<path d="M405.70 164.00L407.30 165.60M407.30 164.00L405.70 165.60" stroke="#45a02a" stroke-width="0.85" opacity="0.55"/>
<path d="M403.00 166.70L404.60 168.30M404.60 166.70L403.00 168.30" stroke="#45a02a" stroke-width="0.85" opacity="0.55"/>
<path d="M405.00 167.80L406.60 169.40M406.60 167.80L405.00 169.40" stroke="#45a02a" stroke-width="0.85" opacity="0.55"/>
<path d="M410.00 169.00L411.60 170.60M411.60 169.00L410.00 170.60" stroke="#b0102a" stroke-width="0.85" opacity="0.55"/>
<path d="M418.80 169.40L420.40 171.00M420.40 169.40L418.80 171.00" stroke="#45a02a" stroke-width="0.85" opacity="0.55"/>
<path d="M406.50 170.50L408.10 172.10M408.10 170.50L406.50 172.10" stroke="#45a02a" stroke-width="0.85" opacity="0.55"/>
<path d="M407.70 171.30L409.30 172.90M409.30 171.30L407.70 172.90" stroke="#45a02a" stroke-width="0.85" opacity="0.55"/>
<path d="M395.40 175.10L397.00 176.70M397.00 175.10L395.40 176.70" stroke="#45a02a" stroke-width="0.85" opacity="0.55"/>
<path d="M400.70 173.20L402.30 174.80M402.30 173.20L400.70 174.80" stroke="#4a2410" stroke-width="0.85" opacity="0.55"/>
<path d="M401.10 175.50L402.70 177.10M402.70 175.50L401.10 177.10" stroke="#f0b00e" stroke-width="0.85" opacity="0.55"/>
<path d="M406.50 176.10L408.10 177.70M408.10 176.10L406.50 177.70" stroke="#5aa8e6" stroke-width="0.85" opacity="0.55"/>
<path d="M405.00 177.40L406.60 179.00M406.60 177.40L405.00 179.00" stroke="#f0b00e" stroke-width="0.85" opacity="0.55"/>
<path d="M409.60 177.40L411.20 179.00M411.20 177.40L409.60 179.00" stroke="#f0b00e" stroke-width="0.85" opacity="0.55"/>
<path d="M410.00 175.10L411.60 176.70M411.60 175.10L410.00 176.70" stroke="#142c6c" stroke-width="0.85" opacity="0.55"/>
<path d="M414.60 173.20L416.20 174.80M416.20 173.20L414.60 174.80" stroke="#45a02a" stroke-width="0.85" opacity="0.55"/>
<path d="M414.20 175.90L415.80 177.50M415.80 175.90L414.20 177.50" stroke="#f0b00e" stroke-width="0.85" opacity="0.55"/>
<path d="M416.90 175.50L418.50 177.10M418.50 175.50L416.90 177.10" stroke="#45a02a" stroke-width="0.85" opacity="0.55"/>
<path d="M418.80 171.30L420.40 172.90M420.40 171.30L418.80 172.90" stroke="#f0b00e" stroke-width="0.85" opacity="0.55"/>
<path d="M423.00 170.50L424.60 172.10M424.60 170.50L423.00 172.10" stroke="#f0b00e" stroke-width="0.85" opacity="0.55"/>
<path d="M420.40 175.50L422.00 177.10M422.00 175.50L420.40 177.10" stroke="#3e1159" stroke-width="0.85" opacity="0.55"/>
<path d="M422.30 176.90L423.90 178.50M423.90 176.90L422.30 178.50" stroke="#45a02a" stroke-width="0.85" opacity="0.55"/>
<path d="M414.60 178.20L416.20 179.80M416.20 178.20L414.60 179.80" stroke="#4a2410" stroke-width="0.85" opacity="0.55"/>
<path d="M418.80 177.80L420.40 179.40M420.40 177.80L418.80 179.40" stroke="#45a02a" stroke-width="0.85" opacity="0.55"/>
<path d="M418.00 179.40L419.60 181.00M419.60 179.40L418.00 181.00" stroke="#3e1159" stroke-width="0.85" opacity="0.55"/>
<path d="M421.10 180.50L422.70 182.10M422.70 180.50L421.10 182.10" stroke="#142c6c" stroke-width="0.85" opacity="0.55"/>
<path d="M407.70 179.40L409.30 181.00M409.30 179.40L407.70 181.00" stroke="#f0b00e" stroke-width="0.85" opacity="0.55"/>
<path d="M409.60 180.90L411.20 182.50M411.20 180.90L409.60 182.50" stroke="#5aa8e6" stroke-width="0.85" opacity="0.55"/>
<path d="M415.40 181.70L417.00 183.30M417.00 181.70L415.40 183.30" stroke="#f0b00e" stroke-width="0.85" opacity="0.55"/>
<path d="M417.30 181.70L418.90 183.30M418.90 181.70L417.30 183.30" stroke="#3e1159" stroke-width="0.85" opacity="0.55"/>
<path d="M408.00 182.00L409.60 183.60M409.60 182.00L408.00 183.60" stroke="#4a2410" stroke-width="0.85" opacity="0.55"/>
<path d="M411.10 182.80L412.70 184.40M412.70 182.80L411.10 184.40" stroke="#45a02a" stroke-width="0.85" opacity="0.55"/>
<path d="M411.50 184.70L413.10 186.30M413.10 184.70L411.50 186.30" stroke="#45a02a" stroke-width="0.85" opacity="0.55"/>
<path d="M412.70 184.00L414.30 185.60M414.30 184.00L412.70 185.60" stroke="#4a2410" stroke-width="0.85" opacity="0.55"/>
<path d="M414.60 184.00L416.20 185.60M416.20 184.00L414.60 185.60" stroke="#142c6c" stroke-width="0.85" opacity="0.55"/>
<path d="M416.50 184.70L418.10 186.30M418.10 184.70L416.50 186.30" stroke="#45a02a" stroke-width="0.85" opacity="0.55"/>
<path d="M402.30 185.10L403.90 186.70M403.90 185.10L402.30 186.70" stroke="#4a2410" stroke-width="0.85" opacity="0.55"/>
<path d="M407.30 185.90L408.90 187.50M408.90 185.90L407.30 187.50" stroke="#4a2410" stroke-width="0.85" opacity="0.55"/>
<path d="M409.60 186.70L411.20 188.30M411.20 186.70L409.60 188.30" stroke="#5aa8e6" stroke-width="0.85" opacity="0.55"/>
<path d="M413.80 187.00L415.40 188.60M415.40 187.00L413.80 188.60" stroke="#5aa8e6" stroke-width="0.85" opacity="0.55"/>
<path d="M411.90 187.80L413.50 189.40M413.50 187.80L411.90 189.40" stroke="#f0b00e" stroke-width="0.85" opacity="0.55"/>
<path d="M413.40 189.00L415.00 190.60M415.00 189.00L413.40 190.60" stroke="#b0102a" stroke-width="0.85" opacity="0.55"/>
<path d="M420.70 189.00L422.30 190.60M422.30 189.00L420.70 190.60" stroke="#142c6c" stroke-width="0.85" opacity="0.55"/>
<path d="M433.00 163.60L434.60 165.20M434.60 163.60L433.00 165.20" stroke="#45a02a" stroke-width="0.85" opacity="0.55"/>
<path d="M431.40 173.60L433.00 175.20M433.00 173.60L431.40 175.20" stroke="#142c6c" stroke-width="0.85" opacity="0.55"/>
<path d="M434.70 174.10L436.30 175.70M436.30 174.10L434.70 175.70" stroke="#142c6c" stroke-width="0.85" opacity="0.55"/>
<path d="M367.40 177.40L369.00 179.00M369.00 177.40L367.40 179.00" stroke="#45a02a" stroke-width="0.85" opacity="0.55"/>
<path d="M371.30 181.00L372.90 182.60M372.90 181.00L371.30 182.60" stroke="#45a02a" stroke-width="0.85" opacity="0.55"/>
<path d="M395.20 175.00L396.80 176.60M396.80 175.00L395.20 176.60" stroke="#45a02a" stroke-width="0.85" opacity="0.55"/>
<circle cx="426.4" cy="126.4" r="1.45" fill="#45a02a"/>
<circle cx="396.4" cy="151.4" r="1.45" fill="#45a02a"/>
<circle cx="423.2" cy="154.2" r="1.45" fill="#45a02a"/>
<circle cx="437.1" cy="152.2" r="1.45" fill="#142c6c"/>
<circle cx="406.0" cy="161.2" r="1.45" fill="#45a02a"/>
<circle cx="432.3" cy="181.9" r="1.45" fill="#142c6c"/>
<circle cx="412.0" cy="184.9" r="1.45" fill="#45a02a"/>
<path d="M139.40 352.10L141.00 353.70M141.00 352.10L139.40 353.70" stroke="#45a02a" stroke-width="0.85" opacity="0.55"/>
<path d="M135.00 367.40L136.60 369.00M136.60 367.40L135.00 369.00" stroke="#5aa8e6" stroke-width="0.85" opacity="0.55"/>
<path d="M146.50 374.90L148.10 376.50M148.10 374.90L146.50 376.50" stroke="#45a02a" stroke-width="0.85" opacity="0.55"/>
<path d="M145.00 377.40L146.60 379.00M146.60 377.40L145.00 379.00" stroke="#45a02a" stroke-width="0.85" opacity="0.55"/>
<path d="M149.20 377.00L150.80 378.60M150.80 377.00L149.20 378.60" stroke="#45a02a" stroke-width="0.85" opacity="0.55"/>
<path d="M150.00 380.00L151.60 381.60M151.60 380.00L150.00 381.60" stroke="#45a02a" stroke-width="0.85" opacity="0.55"/>
<path d="M151.50 381.80L153.10 383.40M153.10 381.80L151.50 383.40" stroke="#45a02a" stroke-width="0.85" opacity="0.55"/>
<path d="M150.40 383.50L152.00 385.10M152.00 383.50L150.40 385.10" stroke="#45a02a" stroke-width="0.85" opacity="0.55"/>
<path d="M154.00 375.80L155.60 377.40M155.60 375.80L154.00 377.40" stroke="#5aa8e6" stroke-width="0.85" opacity="0.55"/>
<path d="M156.90 378.90L158.50 380.50M158.50 378.90L156.90 380.50" stroke="#f0b00e" stroke-width="0.85" opacity="0.55"/>
<path d="M164.20 382.40L165.80 384.00M165.80 382.40L164.20 384.00" stroke="#4a2410" stroke-width="0.85" opacity="0.55"/>
<path d="M148.40 385.80L150.00 387.40M150.00 385.80L148.40 387.40" stroke="#f0b00e" stroke-width="0.85" opacity="0.55"/>
<path d="M144.60 385.40L146.20 387.00M146.20 385.40L144.60 387.00" stroke="#5aa8e6" stroke-width="0.85" opacity="0.55"/>
<path d="M161.90 387.20L163.50 388.80M163.50 387.20L161.90 388.80" stroke="#4a2410" stroke-width="0.85" opacity="0.55"/>
<path d="M152.70 387.20L154.30 388.80M154.30 387.20L152.70 388.80" stroke="#45a02a" stroke-width="0.85" opacity="0.55"/>
<path d="M156.10 388.10L157.70 389.70M157.70 388.10L156.10 389.70" stroke="#f0b00e" stroke-width="0.85" opacity="0.55"/>
<path d="M150.70 383.10L152.30 384.70M152.30 383.10L150.70 384.70" stroke="#45a02a" stroke-width="0.85" opacity="0.55"/>
<path d="M152.70 387.40L154.30 389.00M154.30 387.40L152.70 389.00" stroke="#45a02a" stroke-width="0.85" opacity="0.55"/>
<path d="M150.70 389.30L152.30 390.90M152.30 389.30L150.70 390.90" stroke="#45a02a" stroke-width="0.85" opacity="0.55"/>
<path d="M156.10 388.50L157.70 390.10M157.70 388.50L156.10 390.10" stroke="#f0b00e" stroke-width="0.85" opacity="0.55"/>
<path d="M151.10 392.70L152.70 394.30M152.70 392.70L151.10 394.30" stroke="#5aa8e6" stroke-width="0.85" opacity="0.55"/>
<path d="M152.70 393.90L154.30 395.50M154.30 393.90L152.70 395.50" stroke="#5aa8e6" stroke-width="0.85" opacity="0.55"/>
<path d="M155.00 395.00L156.60 396.60M156.60 395.00L155.00 396.60" stroke="#4a2410" stroke-width="0.85" opacity="0.55"/>
<path d="M148.00 396.20L149.60 397.80M149.60 396.20L148.00 397.80" stroke="#45a02a" stroke-width="0.85" opacity="0.55"/>
<path d="M145.70 397.70L147.30 399.30M147.30 397.70L145.70 399.30" stroke="#45a02a" stroke-width="0.85" opacity="0.55"/>
<path d="M156.10 397.70L157.70 399.30M157.70 397.70L156.10 399.30" stroke="#5aa8e6" stroke-width="0.85" opacity="0.55"/>
<path d="M147.30 399.50L148.90 401.10M148.90 399.50L147.30 401.10" stroke="#4a2410" stroke-width="0.85" opacity="0.55"/>
<path d="M149.60 400.00L151.20 401.60M151.20 400.00L149.60 401.60" stroke="#5aa8e6" stroke-width="0.85" opacity="0.55"/>
<path d="M152.30 400.00L153.90 401.60M153.90 400.00L152.30 401.60" stroke="#45a02a" stroke-width="0.85" opacity="0.55"/>
<path d="M148.40 401.80L150.00 403.40M150.00 401.80L148.40 403.40" stroke="#5aa8e6" stroke-width="0.85" opacity="0.55"/>
<path d="M150.00 401.80L151.60 403.40M151.60 401.80L150.00 403.40" stroke="#45a02a" stroke-width="0.85" opacity="0.55"/>
<path d="M146.50 403.50L148.10 405.10M148.10 403.50L146.50 405.10" stroke="#f0b00e" stroke-width="0.85" opacity="0.55"/>
<path d="M152.70 402.70L154.30 404.30M154.30 402.70L152.70 404.30" stroke="#f0b00e" stroke-width="0.85" opacity="0.55"/>
<path d="M150.70 404.70L152.30 406.30M152.30 404.70L150.70 406.30" stroke="#4a2410" stroke-width="0.85" opacity="0.55"/>
<path d="M161.90 401.40L163.50 403.00M163.50 401.40L161.90 403.00" stroke="#142c6c" stroke-width="0.85" opacity="0.55"/>
<path d="M136.50 403.50L138.10 405.10M138.10 403.50L136.50 405.10" stroke="#45a02a" stroke-width="0.85" opacity="0.55"/>
<path d="M148.40 385.70L150.00 387.30M150.00 385.70L148.40 387.30" stroke="#f0b00e" stroke-width="0.85" opacity="0.55"/>
<path d="M176.30 350.40L177.90 352.00M177.90 350.40L176.30 352.00" stroke="#f0b00e" stroke-width="0.85" opacity="0.55"/>
<path d="M178.60 352.70L180.20 354.30M180.20 352.70L178.60 354.30" stroke="#142c6c" stroke-width="0.85" opacity="0.55"/>
<path d="M184.20 357.70L185.80 359.30M185.80 357.70L184.20 359.30" stroke="#142c6c" stroke-width="0.85" opacity="0.55"/>
<path d="M188.80 361.10L190.40 362.70M190.40 361.10L188.80 362.70" stroke="#142c6c" stroke-width="0.85" opacity="0.55"/>
<path d="M177.70 371.30L179.30 372.90M179.30 371.30L177.70 372.90" stroke="#4a2410" stroke-width="0.85" opacity="0.55"/>
<path d="M135.20 367.40L136.80 369.00M136.80 367.40L135.20 369.00" stroke="#5aa8e6" stroke-width="0.85" opacity="0.55"/>
<path d="M127.40 402.80L129.00 404.40M129.00 402.80L127.40 404.40" stroke="#5aa8e6" stroke-width="0.85" opacity="0.55"/>
<circle cx="132.5" cy="264.6" r="1.45" fill="#142c6c"/>
<circle cx="134.6" cy="298.8" r="1.45" fill="#142c6c"/>
<circle cx="143.5" cy="315.4" r="1.45" fill="#142c6c"/>
<circle cx="122.8" cy="322.8" r="1.45" fill="#142c6c"/>
<circle cx="139.9" cy="334.9" r="1.45" fill="#3e1159"/>
<circle cx="134.2" cy="341.0" r="1.45" fill="#3e1159"/>
<circle cx="143.1" cy="336.6" r="1.45" fill="#1a1a1a"/>
<circle cx="168.0" cy="324.1" r="1.45" fill="#45a02a"/>
<circle cx="166.9" cy="327.9" r="1.45" fill="#f0b00e"/>
<circle cx="162.3" cy="334.0" r="1.45" fill="#4a2410"/>
<circle cx="166.3" cy="338.0" r="1.45" fill="#4a2410"/>
<circle cx="167.7" cy="341.4" r="1.45" fill="#45a02a"/>
<circle cx="160.5" cy="346.9" r="1.45" fill="#f0b00e"/>
<circle cx="159.2" cy="351.2" r="1.45" fill="#45a02a"/>
<circle cx="156.4" cy="360.6" r="1.45" fill="#f0b00e"/>
<circle cx="162.7" cy="365.1" r="1.45" fill="#b0102a"/>
<circle cx="142.6" cy="366.5" r="1.45" fill="#3e1159"/>
<circle cx="124.2" cy="357.8" r="1.45" fill="#142c6c"/>
<circle cx="127.5" cy="361.0" r="1.45" fill="#142c6c"/>
<circle cx="124.5" cy="367.5" r="1.45" fill="#142c6c"/>
<circle cx="144.4" cy="370.6" r="1.45" fill="#142c6c"/>
<circle cx="154.6" cy="368.5" r="1.45" fill="#b0102a"/>
<circle cx="155.8" cy="368.5" r="1.45" fill="#f0b00e"/>
<circle cx="157.9" cy="371.8" r="1.45" fill="#45a02a"/>
<circle cx="168.8" cy="372.4" r="1.45" fill="#45a02a"/>
<circle cx="155.9" cy="373.9" r="1.45" fill="#f0b00e"/>
<circle cx="155.0" cy="374.9" r="1.45" fill="#45a02a"/>
<circle cx="142.3" cy="380.3" r="1.45" fill="#142c6c"/>
<circle cx="144.4" cy="382.4" r="1.45" fill="#3e1159"/>
<circle cx="161.5" cy="380.5" r="1.45" fill="#142c6c"/>
<circle cx="164.2" cy="381.6" r="1.45" fill="#45a02a"/>
<circle cx="159.8" cy="384.3" r="1.45" fill="#1e3a12"/>
<circle cx="170.5" cy="386.2" r="1.45" fill="#f0b00e"/>
<circle cx="146.5" cy="395.5" r="1.45" fill="#45a02a"/>
<circle cx="158.5" cy="395.8" r="1.45" fill="#45a02a"/>
<circle cx="158.5" cy="398.8" r="1.45" fill="#45a02a"/>
<circle cx="156.9" cy="403.9" r="1.45" fill="#45a02a"/>
<circle cx="171.0" cy="403.5" r="1.45" fill="#45a02a"/>
<circle cx="186.9" cy="375.2" r="1.45" fill="#45a02a"/>
<circle cx="193.1" cy="378.6" r="1.45" fill="#45a02a"/>
<circle cx="183.1" cy="384.9" r="1.45" fill="#4a2410"/>
<ellipse cx="132.7" cy="282.9" rx="9.0" ry="20.2" fill="none" stroke="#1a1a1a" stroke-width="1.15" stroke-dasharray="2.1 1.4"/>
<ellipse cx="135.4" cy="337.7" rx="6.5" ry="7.8" fill="none" stroke="#1a1a1a" stroke-width="1.15" stroke-dasharray="2.1 1.4"/>
<line x1="140.8" y1="279.9" x2="140.8" y2="285.5" stroke="#888" stroke-width="1.2"/>
<text x="129.2" y="271.3" font-size="6.6" text-anchor="start" stroke="#231f20" stroke-width="0.05" textLength="6.8" lengthAdjust="spacingAndGlyphs" fill="#231f20">T3</text>
<text x="129.6" y="295.0" font-size="6.6" text-anchor="start" stroke="#231f20" stroke-width="0.05" textLength="7.3" lengthAdjust="spacingAndGlyphs" fill="#231f20">T2</text>
<text x="70.5" y="285.8" font-size="6.6" text-anchor="start" stroke="#231f20" stroke-width="0.05" textLength="52.0" lengthAdjust="spacingAndGlyphs" fill="#231f20">Transitional B cells</text>
<text x="81.7" y="316.9" font-size="6.6" text-anchor="start" stroke="#231f20" stroke-width="0.05" textLength="58.4" lengthAdjust="spacingAndGlyphs" fill="#231f20">Mature Naive B cells</text>
<text x="100.2" y="325.1" font-size="6.6" text-anchor="start" stroke="#231f20" stroke-width="0.05" textLength="17.9" lengthAdjust="spacingAndGlyphs" fill="#231f20">B cells</text>
<text x="94.1" y="339.1" font-size="6.6" text-anchor="start" stroke="#231f20" stroke-width="0.05" textLength="32.2" lengthAdjust="spacingAndGlyphs" fill="#231f20">NKreg cells</text>
<text x="144.5" y="332.5" font-size="6.6" text-anchor="start" stroke="#231f20" stroke-width="0.05" textLength="18.8" lengthAdjust="spacingAndGlyphs" fill="#231f20">sCD13</text>
<text x="168.7" y="321.3" font-size="6.6" text-anchor="start" stroke="#231f20" stroke-width="0.05" textLength="46.4" lengthAdjust="spacingAndGlyphs" fill="#231f20">Activated T cells</text>
<text x="169.0" y="330.8" font-size="6.6" text-anchor="start" stroke="#231f20" stroke-width="0.05" textLength="81.4" lengthAdjust="spacingAndGlyphs" fill="#231f20">Activated CD56dim NK cells</text>
<text x="169.7" y="339.9" font-size="6.6" text-anchor="start" stroke="#231f20" stroke-width="0.05" textLength="10.8" lengthAdjust="spacingAndGlyphs" fill="#231f20">ST2</text>
<text x="170.8" y="346.4" font-size="6.6" text-anchor="start" stroke="#231f20" stroke-width="0.05" textLength="39.0" lengthAdjust="spacingAndGlyphs" fill="#231f20">Naive Th cells</text>
<text x="74.9" y="358.8" font-size="6.6" text-anchor="start" stroke="#231f20" stroke-width="0.05" textLength="46.4" lengthAdjust="spacingAndGlyphs" fill="#231f20">CD21low B cells</text>
<path d="M426.40 343.00L428.00 344.60M428.00 343.00L426.40 344.60" stroke="#45a02a" stroke-width="0.85" opacity="0.55"/>
<path d="M418.00 355.70L419.60 357.30M419.60 355.70L418.00 357.30" stroke="#45a02a" stroke-width="0.85" opacity="0.55"/>
<path d="M391.90 368.00L393.50 369.60M393.50 368.00L391.90 369.60" stroke="#45a02a" stroke-width="0.85" opacity="0.55"/>
<path d="M403.00 369.20L404.60 370.80M404.60 369.20L403.00 370.80" stroke="#45a02a" stroke-width="0.85" opacity="0.55"/>
<path d="M397.90 373.40L399.50 375.00M399.50 373.40L397.90 375.00" stroke="#142c6c" stroke-width="0.85" opacity="0.55"/>
<path d="M396.10 377.30L397.70 378.90M397.70 377.30L396.10 378.90" stroke="#45a02a" stroke-width="0.85" opacity="0.55"/>
<path d="M393.60 379.00L395.20 380.60M395.20 379.00L393.60 380.60" stroke="#5aa8e6" stroke-width="0.85" opacity="0.55"/>
<path d="M401.10 377.30L402.70 378.90M402.70 377.30L401.10 378.90" stroke="#142c6c" stroke-width="0.85" opacity="0.55"/>
<path d="M403.00 380.00L404.60 381.60M404.60 380.00L403.00 381.60" stroke="#45a02a" stroke-width="0.85" opacity="0.55"/>
<path d="M404.80 381.50L406.40 383.10M406.40 381.50L404.80 383.10" stroke="#45a02a" stroke-width="0.85" opacity="0.55"/>
<path d="M415.40 377.30L417.00 378.90M417.00 377.30L415.40 378.90" stroke="#5aa8e6" stroke-width="0.85" opacity="0.55"/>
<path d="M413.30 382.90L414.90 384.50M414.90 382.90L413.30 384.50" stroke="#45a02a" stroke-width="0.85" opacity="0.55"/>
<path d="M417.30 383.00L418.90 384.60M418.90 383.00L417.30 384.60" stroke="#4a2410" stroke-width="0.85" opacity="0.55"/>
<path d="M414.60 381.40L416.20 383.00M416.20 381.40L414.60 383.00" stroke="#45a02a" stroke-width="0.85" opacity="0.55"/>
<path d="M420.70 366.50L422.30 368.10M422.30 366.50L420.70 368.10" stroke="#f0b00e" stroke-width="0.85" opacity="0.55"/>
<path d="M402.30 382.30L403.90 383.90M403.90 382.30L402.30 383.90" stroke="#45a02a" stroke-width="0.85" opacity="0.55"/>
<path d="M431.10 366.50L432.70 368.10M432.70 366.50L431.10 368.10" stroke="#45a02a" stroke-width="0.85" opacity="0.55"/>
<path d="M433.00 373.40L434.60 375.00M434.60 373.40L433.00 375.00" stroke="#45a02a" stroke-width="0.85" opacity="0.55"/>
<path d="M439.80 380.00L441.40 381.60M441.40 380.00L439.80 381.60" stroke="#142c6c" stroke-width="0.85" opacity="0.55"/>
<path d="M426.50 384.60L428.10 386.20M428.10 384.60L426.50 386.20" stroke="#4a2410" stroke-width="0.85" opacity="0.55"/>
<path d="M397.10 389.40L398.70 391.00M398.70 389.40L397.10 391.00" stroke="#142c6c" stroke-width="0.85" opacity="0.55"/>
<path d="M413.00 387.70L414.60 389.30M414.60 387.70L413.00 389.30" stroke="#45a02a" stroke-width="0.85" opacity="0.55"/>
<path d="M406.50 386.70L408.10 388.30M408.10 386.70L406.50 388.30" stroke="#45a02a" stroke-width="0.85" opacity="0.55"/>
<path d="M403.40 395.50L405.00 397.10M405.00 395.50L403.40 397.10" stroke="#142c6c" stroke-width="0.85" opacity="0.55"/>
<path d="M404.60 398.60L406.20 400.20M406.20 398.60L404.60 400.20" stroke="#142c6c" stroke-width="0.85" opacity="0.55"/>
<path d="M404.00 396.90L405.60 398.50M405.60 396.90L404.00 398.50" stroke="#45a02a" stroke-width="0.85" opacity="0.55"/>
<path d="M408.00 394.60L409.60 396.20M409.60 394.60L408.00 396.20" stroke="#142c6c" stroke-width="0.85" opacity="0.55"/>
<path d="M411.90 395.50L413.50 397.10M413.50 395.50L411.90 397.10" stroke="#142c6c" stroke-width="0.85" opacity="0.55"/>
<path d="M413.80 397.00L415.40 398.60M415.40 397.00L413.80 398.60" stroke="#5aa8e6" stroke-width="0.85" opacity="0.55"/>
<path d="M415.70 397.00L417.30 398.60M417.30 397.00L415.70 398.60" stroke="#b0102a" stroke-width="0.85" opacity="0.55"/>
<path d="M417.70 397.70L419.30 399.30M419.30 397.70L417.70 399.30" stroke="#4a2410" stroke-width="0.85" opacity="0.55"/>
<path d="M410.40 399.40L412.00 401.00M412.00 399.40L410.40 401.00" stroke="#45a02a" stroke-width="0.85" opacity="0.55"/>
<path d="M414.60 399.50L416.20 401.10M416.20 399.50L414.60 401.10" stroke="#5aa8e6" stroke-width="0.85" opacity="0.55"/>
<path d="M395.40 400.70L397.00 402.30M397.00 400.70L395.40 402.30" stroke="#142c6c" stroke-width="0.85" opacity="0.55"/>
<path d="M408.00 402.80L409.60 404.40M409.60 402.80L408.00 404.40" stroke="#f0b00e" stroke-width="0.85" opacity="0.55"/>
<path d="M410.70 402.40L412.30 404.00M412.30 402.40L410.70 404.00" stroke="#b0102a" stroke-width="0.85" opacity="0.55"/>
<path d="M412.30 402.80L413.90 404.40M413.90 402.80L412.30 404.40" stroke="#45a02a" stroke-width="0.85" opacity="0.55"/>
<path d="M417.30 402.40L418.90 404.00M418.90 402.40L417.30 404.00" stroke="#142c6c" stroke-width="0.85" opacity="0.55"/>
<path d="M420.00 402.40L421.60 404.00M421.60 402.40L420.00 404.00" stroke="#5aa8e6" stroke-width="0.85" opacity="0.55"/>
<path d="M409.20 405.50L410.80 407.10M410.80 405.50L409.20 407.10" stroke="#45a02a" stroke-width="0.85" opacity="0.55"/>
<path d="M408.80 404.00L410.40 405.60M410.40 404.00L408.80 405.60" stroke="#45a02a" stroke-width="0.85" opacity="0.55"/>
<path d="M426.40 384.70L428.00 386.30M428.00 384.70L426.40 386.30" stroke="#4a2410" stroke-width="0.85" opacity="0.55"/>
<path d="M431.60 388.80L433.20 390.40M433.20 388.80L431.60 390.40" stroke="#142c6c" stroke-width="0.85" opacity="0.55"/>
<path d="M440.00 390.00L441.60 391.60M441.60 390.00L440.00 391.60" stroke="#142c6c" stroke-width="0.85" opacity="0.55"/>
<path d="M443.10 391.10L444.70 392.70M444.70 391.10L443.10 392.70" stroke="#4a2410" stroke-width="0.85" opacity="0.55"/>
<path d="M431.20 394.20L432.80 395.80M432.80 394.20L431.20 395.80" stroke="#f0b00e" stroke-width="0.85" opacity="0.55"/>
<path d="M437.40 395.70L439.00 397.30M439.00 395.70L437.40 397.30" stroke="#f0b00e" stroke-width="0.85" opacity="0.55"/>
<path d="M441.60 401.10L443.20 402.70M443.20 401.10L441.60 402.70" stroke="#4a2410" stroke-width="0.85" opacity="0.55"/>
<path d="M440.00 380.00L441.60 381.60M441.60 380.00L440.00 381.60" stroke="#142c6c" stroke-width="0.85" opacity="0.55"/>
<path d="M377.30 384.20L378.90 385.80M378.90 384.20L377.30 385.80" stroke="#45a02a" stroke-width="0.85" opacity="0.55"/>
<path d="M394.20 379.10L395.80 380.70M395.80 379.10L394.20 380.70" stroke="#5aa8e6" stroke-width="0.85" opacity="0.55"/>
<circle cx="397.2" cy="345.0" r="1.45" fill="#3e1159"/>
<circle cx="399.4" cy="351.6" r="1.45" fill="#3e1159"/>
<circle cx="399.8" cy="357.9" r="1.45" fill="#142c6c"/>
<circle cx="420.2" cy="342.4" r="1.45" fill="#45a02a"/>
<circle cx="420.4" cy="351.4" r="1.45" fill="#f0b00e"/>
<circle cx="421.0" cy="358.1" r="1.45" fill="#f0b00e"/>
<circle cx="422.3" cy="357.3" r="1.45" fill="#4a2410"/>
<circle cx="430.3" cy="358.6" r="1.45" fill="#f0b00e"/>
<circle cx="435.0" cy="356.4" r="1.45" fill="#4a2410"/>
<circle cx="440.3" cy="365.5" r="1.45" fill="#4a2410"/>
<circle cx="401.2" cy="366.4" r="1.45" fill="#3e1159"/>
<circle cx="393.5" cy="369.8" r="1.45" fill="#142c6c"/>
<circle cx="394.8" cy="374.5" r="1.45" fill="#3e1159"/>
<circle cx="405.6" cy="375.0" r="1.45" fill="#f0b00e"/>
<circle cx="419.0" cy="374.0" r="1.45" fill="#f0b00e"/>
<circle cx="392.3" cy="383.8" r="1.45" fill="#142c6c"/>
<circle cx="407.9" cy="385.3" r="1.45" fill="#f0b00e"/>
<circle cx="416.5" cy="387.0" r="1.45" fill="#f0b00e"/>
<circle cx="420.4" cy="380.2" r="1.45" fill="#45a02a"/>
<circle cx="420.8" cy="382.3" r="1.45" fill="#45a02a"/>
<circle cx="424.8" cy="376.5" r="1.45" fill="#4a2410"/>
<circle cx="424.6" cy="378.3" r="1.45" fill="#4a2410"/>
<circle cx="426.9" cy="377.8" r="1.45" fill="#45a02a"/>
<circle cx="426.9" cy="370.9" r="1.45" fill="#45a02a"/>
<circle cx="442.2" cy="374.2" r="1.45" fill="#45a02a"/>
<circle cx="423.6" cy="381.7" r="1.45" fill="#5aa8e6"/>
<circle cx="462.3" cy="385.3" r="1.45" fill="#45a02a"/>
<circle cx="422.3" cy="398.6" r="1.45" fill="#45a02a"/>
<circle cx="421.2" cy="406.4" r="1.45" fill="#45a02a"/>
<circle cx="427.2" cy="396.8" r="1.45" fill="#45a02a"/>
<circle cx="431.4" cy="404.6" r="1.45" fill="#45a02a"/>
<ellipse cx="396.8" cy="347.4" rx="5.8" ry="8.6" fill="none" stroke="#1a1a1a" stroke-width="1.15" stroke-dasharray="2.1 1.4"/>
<text x="356.8" y="347.3" font-size="6.6" text-anchor="start" stroke="#231f20" stroke-width="0.05" textLength="32.3" lengthAdjust="spacingAndGlyphs" fill="#231f20">NKreg cells</text>
<text x="336.4" y="361.2" font-size="6.6" text-anchor="start" stroke="#231f20" stroke-width="0.05" textLength="60.0" lengthAdjust="spacingAndGlyphs" fill="#231f20">T3 transitional B cells</text>
<text x="434.9" y="353.9" font-size="6.6" text-anchor="start" stroke="#231f20" stroke-width="0.05" textLength="30.4" lengthAdjust="spacingAndGlyphs" fill="#231f20">Reg3alpha</text>
<text x="431.1" y="363.1" font-size="6.6" text-anchor="start" stroke="#231f20" stroke-width="0.05" textLength="81.0" lengthAdjust="spacingAndGlyphs" fill="#231f20">Activated CD56dim NK cells</text>
</svg>
<div class="frame"></div>
</body></html>
